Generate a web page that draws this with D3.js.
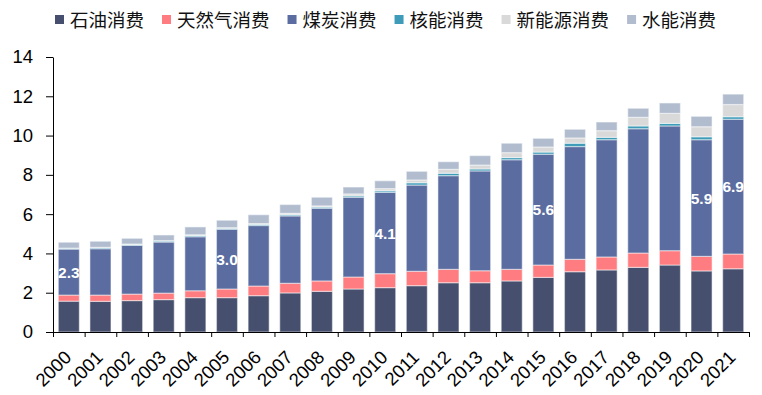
<!DOCTYPE html>
<html>
<head>
<meta charset="utf-8">
<script src="https://cdn.jsdelivr.net/npm/d3@7"></script>
<style>
  body { margin: 0; background: #fff; }
  text { font-family: "Liberation Sans", Arial, sans-serif; }
  .legend text { font-family: "Noto Sans CJK SC", sans-serif; }
</style>
</head>
<body>
<script>
var years = d3.range(2000, 2022).map(String)

var seriesNames = ['石油消费', '天然气消费', '煤炭消费', '核能消费', '新能源消费', '水能消费']
var seriesColors = ['#46506e', '#ff7c80', '#5a6ca0', '#3f9cb8', '#d9d9d9', '#b1bdcf']

var oil     = [1.57, 1.56, 1.60, 1.65, 1.75, 1.75, 1.85, 1.99, 2.07, 2.19, 2.26, 2.36, 2.51, 2.51, 2.60, 2.78, 3.07, 3.16, 3.29, 3.41, 3.11, 3.22]
var gas     = [0.31, 0.32, 0.33, 0.33, 0.35, 0.44, 0.49, 0.49, 0.53, 0.61, 0.71, 0.73, 0.68, 0.61, 0.59, 0.63, 0.63, 0.66, 0.73, 0.73, 0.74, 0.75]
var coal    = [2.34, 2.36, 2.48, 2.60, 2.75, 3.04, 3.08, 3.43, 3.70, 4.06, 4.14, 4.39, 4.77, 5.08, 5.58, 5.64, 5.74, 5.97, 6.33, 6.35, 5.94, 6.86]
var nuclear = [0.04, 0.05, 0.04, 0.05, 0.06, 0.05, 0.06, 0.06, 0.06, 0.07, 0.08, 0.12, 0.12, 0.10, 0.11, 0.11, 0.17, 0.12, 0.14, 0.13, 0.15, 0.13]
var newEnergy = [0.01, 0.02, 0.03, 0.02, 0.04, 0.03, 0.04, 0.07, 0.06, 0.10, 0.11, 0.14, 0.20, 0.20, 0.25, 0.26, 0.27, 0.34, 0.44, 0.51, 0.51, 0.62]
var hydro   = [0.30, 0.31, 0.29, 0.29, 0.40, 0.38, 0.45, 0.45, 0.44, 0.35, 0.40, 0.44, 0.39, 0.48, 0.48, 0.44, 0.44, 0.44, 0.46, 0.53, 0.53, 0.53]

// years whose coal value gets a label
var labelYears = ['2000', '2005', '2010', '2015', '2020', '2021']

var yTicks = [0, 2, 4, 6, 8, 10, 12, 14]

var table = years.map(function(yr, i){
  return {year: yr, s0: oil[i], s1: gas[i], s2: coal[i], s3: nuclear[i], s4: newEnergy[i], s5: hydro[i]}
})
var keys = ['s0', 's1', 's2', 's3', 's4', 's5']
var stacked = d3.stack().keys(keys)(table)

var svg = d3.select('body').append('svg').attr('width', 762).attr('height', 395)

var x = d3.scaleBand().domain(years).range([53, 749]).paddingInner(0.335).paddingOuter(0.1675)
var xEdge = d3.scaleLinear().domain([0, years.length]).range([53, 749])
var y = d3.scaleLinear().domain([0, 14]).range([332, 57])

// bars
svg.append('g').selectAll('g')
  .data(stacked)
  .join('g')
  .attr('fill', function(d, i){ return seriesColors[i] })
  .selectAll('rect')
  .data(function(d){ return d })
  .join('rect')
  .attr('x', function(d){ return x(d.data.year) })
  .attr('width', x.bandwidth())
  .attr('y', function(d){ return y(d[1]) })
  .attr('height', function(d){ return y(d[0]) - y(d[1]) })
  .attr('stroke', 'rgba(255,255,255,0.45)')
  .attr('stroke-width', 1.2)

// coal labels
var coalLayer = stacked[2]
svg.append('g').selectAll('text')
  .data(coalLayer.filter(function(d){ return labelYears.indexOf(d.data.year) >= 0 }))
  .join('text')
  .attr('x', function(d){ return x(d.data.year) + x.bandwidth() / 2 })
  .attr('y', function(d){ return y((d[0] + d[1]) / 2) })
  .attr('dy', '0.36em')
  .attr('text-anchor', 'middle')
  .attr('fill', '#fff')
  .attr('font-weight', 'bold')
  .attr('font-size', 15.5)
  .text(function(d){ return d3.format('.1f')(d.data.s2) })

// y axis
var yAxis = svg.append('g')
  .attr('transform', 'translate(53,0)')
  .call(d3.axisLeft(y).tickValues(yTicks).tickSize(7).tickPadding(13).tickSizeOuter(0))
yAxis.selectAll('text').attr('font-size', 18.5).attr('fill', '#000').style('font-family', '"Liberation Sans", Arial, sans-serif')
yAxis.selectAll('line, path').attr('stroke', '#000')

// x axis, ticks between categories
var xAxis = svg.append('g')
  .attr('transform', 'translate(0,332)')
  .call(d3.axisBottom(xEdge).tickValues(d3.range(years.length + 1)).tickSize(5).tickFormat('').tickSizeOuter(0))
xAxis.selectAll('line, path').attr('stroke', '#000')

svg.append('g').selectAll('text')
  .data(years)
  .join('text')
  .attr('transform', function(d){ return 'translate(' + (x(d) + x.bandwidth() / 2 - 1) + ',354) rotate(-45)' })
  .attr('text-anchor', 'end')
  .attr('dy', '0.35em')
  .attr('font-size', 18.5)
  .attr('fill', '#000')
  .text(function(d){ return d })

// legend
var legend = svg.append('g').attr('class', 'legend')
var lx = 55
seriesNames.forEach(function(name, i){
  var g = legend.append('g').attr('transform', 'translate(' + lx + ',0)')
  g.append('rect').attr('x', 0).attr('y', 15).attr('width', 9).attr('height', 9).attr('fill', seriesColors[i])
  var t = g.append('text').attr('x', 15).attr('y', 20).attr('dy', '0.36em')
    .attr('font-size', 18.5).attr('fill', '#111').text(name)
  lx += 15 + t.node().getComputedTextLength() + 18
})
</script>
</body>
</html>
